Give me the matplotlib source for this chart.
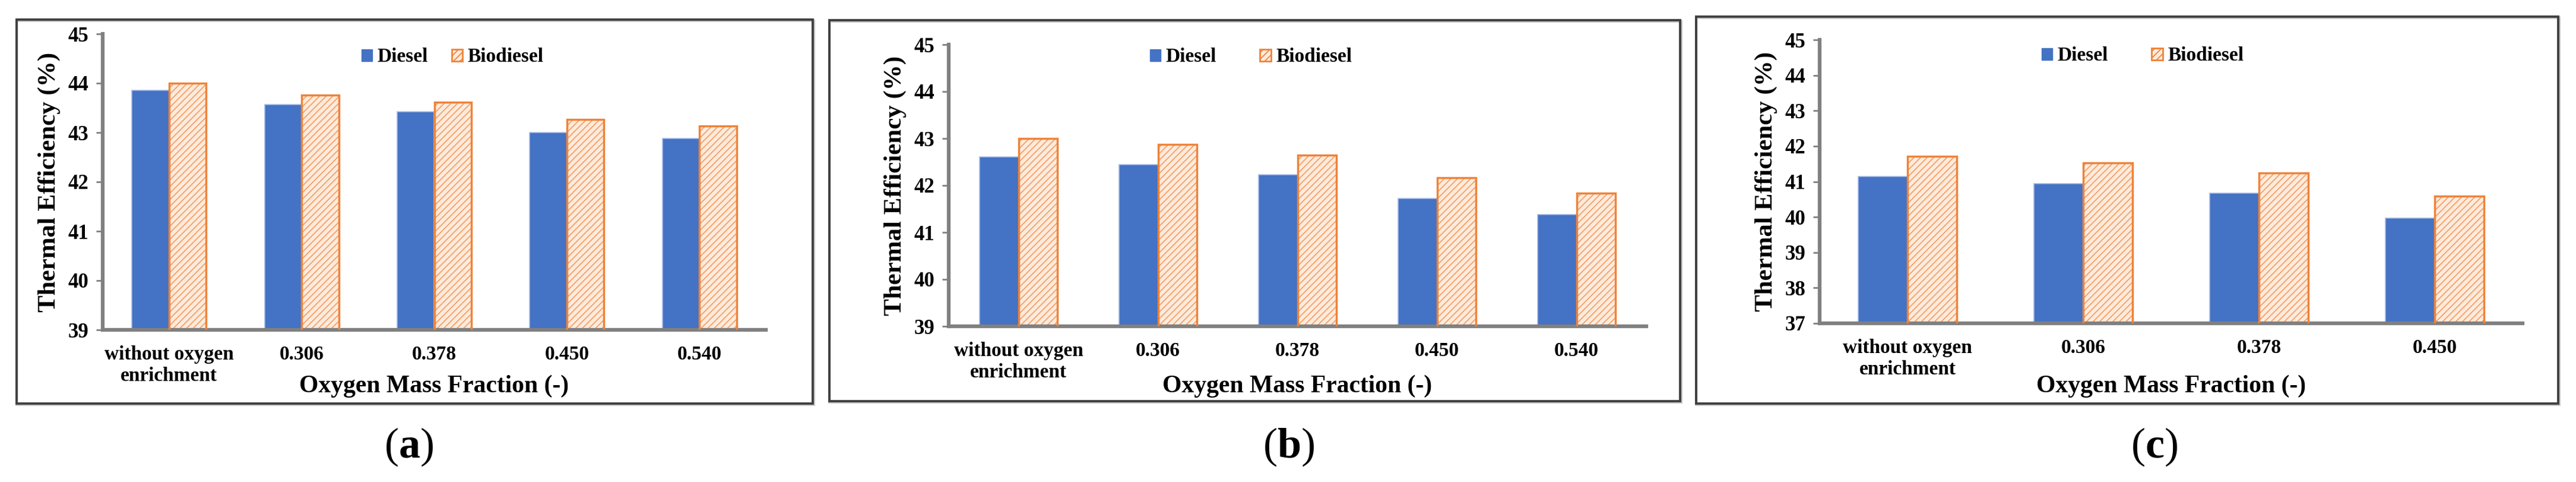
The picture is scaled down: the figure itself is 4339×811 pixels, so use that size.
import matplotlib
matplotlib.use("Agg")
import matplotlib.pyplot as plt
from matplotlib.patches import Patch, Rectangle
import numpy as np

# data
categories = ['without oxygen\nenrichment', '0.306', '0.378', '0.450', '0.540']
diesel_a = [43.85, 43.57, 43.42, 43.00, 42.88]
bio_a = [44.00, 43.76, 43.62, 43.27, 43.13]
diesel_b = [42.61, 42.44, 42.23, 41.72, 41.38]
bio_b = [43.00, 42.87, 42.65, 42.17, 41.84]
diesel_c = [41.14, 40.94, 40.68, 39.97]
bio_c = [41.72, 41.53, 41.25, 40.59]
ylims = [(39, 45), (39, 45), (37, 45)]
captions = ['a', 'b', 'c']

W, H = 4339, 811
blue = '#4472C4'
orange = '#EE833A'
light_orange = '#FDEBDD'
hatch_orange = '#F5A066'
axis_gray = '#808080'
font = 'Liberation Serif'

plt.rcParams['font.family'] = [font, 'DejaVu Serif']
plt.rcParams['font.weight'] = 'bold'
plt.rcParams['mathtext.fontset'] = 'custom'
plt.rcParams['mathtext.rm'] = font
plt.rcParams['mathtext.bf'] = font + ':bold'
plt.rcParams['hatch.linewidth'] = 1.3


def px_box(left, right, top, bottom):
    return [left / W, 1 - bottom / H, (right - left) / W, (bottom - top) / H]


fig = plt.figure(figsize=(W / 100, H / 100), dpi=100, facecolor='white')

# panel layout in pixels: frame, axes, legend centre, caption centre, column spacing
panels = [
    dict(frame=(28, 1369, 33, 679), axes=(173, 1290, 57, 555),
         legend=(762, 96), caption=689, colsp=1.2,
         diesel=diesel_a, bio=bio_a, cats=categories),
    dict(frame=(1397, 2830, 34, 675), axes=(1598, 2773, 75, 549),
         legend=(2107, 96), caption=2171, colsp=2.2,
         diesel=diesel_b, bio=bio_b, cats=categories),
    dict(frame=(2857, 4309, 28, 679), axes=(3065, 4249, 67, 544),
         legend=(3609, 94), caption=3629, colsp=2.2,
         diesel=diesel_c, bio=bio_c, cats=categories[:4]),
]

for i, p in enumerate(panels):
    # outer frame with a light shadow
    l, r, t, b = p['frame']
    fig.patches.append(Rectangle((l / W, 1 - (b + 2) / H), (r - l + 2) / W, (b - t) / H,
                                 transform=fig.transFigure, fill=False,
                                 edgecolor='#c8c8c8', linewidth=3, zorder=0))
    fig.patches.append(Rectangle((l / W, 1 - b / H), (r - l) / W, (b - t) / H,
                                 transform=fig.transFigure, fill=False,
                                 edgecolor='#404040', linewidth=2.8, zorder=1))

    ax = fig.add_axes(px_box(*p['axes']))
    x = np.arange(len(p['cats']))
    w = 0.28
    ax.bar(x - w / 2, p['diesel'], width=w, color=blue, edgecolor='#a3b9e6',
           linewidth=1.2, zorder=2)
    ax.bar(x + w / 2, p['bio'], width=w, color=light_orange, edgecolor=hatch_orange,
           hatch='///', linewidth=0, zorder=2)
    ax.bar(x + w / 2, p['bio'], width=w, fill=False, edgecolor=orange,
           linewidth=2.5, zorder=3)

    lo, hi = ylims[i]
    ax.set_ylim(lo, hi)
    ax.set_xlim(-0.5, len(p['cats']) - 0.5)
    ax.set_xticks(x)
    ax.set_xticklabels(p['cats'], fontsize=24, fontweight='bold', family=font)
    ax.set_yticks(np.arange(lo, hi + 1, 1))
    ax.set_yticklabels([str(int(v)) for v in np.arange(lo, hi + 1, 1)],
                       fontsize=25, fontweight='bold', family=font)

    for side in ['top', 'right']:
        ax.spines[side].set_visible(False)
    for side in ['left', 'bottom']:
        ax.spines[side].set_color(axis_gray)
        ax.spines[side].set_linewidth(4.5)
    ax.tick_params(axis='y', direction='out', length=8, width=2, color=axis_gray, pad=9)
    ax.tick_params(axis='x', length=0, pad=19)

    ax_l, ax_r, ax_t, ax_b = p['axes']
    ax.set_ylabel('Thermal Efficiency (%)', fontsize=31, fontweight='bold', family=font)
    ax.yaxis.set_label_coords(-90 / (ax_r - ax_l), 0.5)
    ax.yaxis.label.set_va('center')
    ax.set_xlabel('Oxygen Mass Fraction (-)', fontsize=30, fontweight='bold', family=font)
    ax.xaxis.set_label_coords(0.5, -(650 - ax_b) / (ax_b - ax_t))
    ax.xaxis.label.set_va('center')

    handles = [Patch(facecolor=blue, edgecolor=blue, label='Diesel'),
               Patch(facecolor=light_orange, edgecolor=orange, hatch='///',
                     linewidth=2, label='Biodiesel')]
    lx, ly = p['legend']
    ax.legend(handles=handles, loc='center', ncol=2, frameon=False,
              bbox_to_anchor=(lx / W, 1 - ly / H), bbox_transform=fig.transFigure,
              prop={'family': font, 'weight': 'bold', 'size': 24},
              handlelength=0.55, handleheight=0.55, handletextpad=0.25,
              columnspacing=p['colsp'])

    fig.text(p['caption'] / W, 1 - 752 / H, '(' + r'$\mathbf{' + captions[i] + '}$' + ')',
             ha='center', va='center', fontsize=52, fontweight='normal', family=font)

fig.savefig('out.png', dpi=100, facecolor='white')
